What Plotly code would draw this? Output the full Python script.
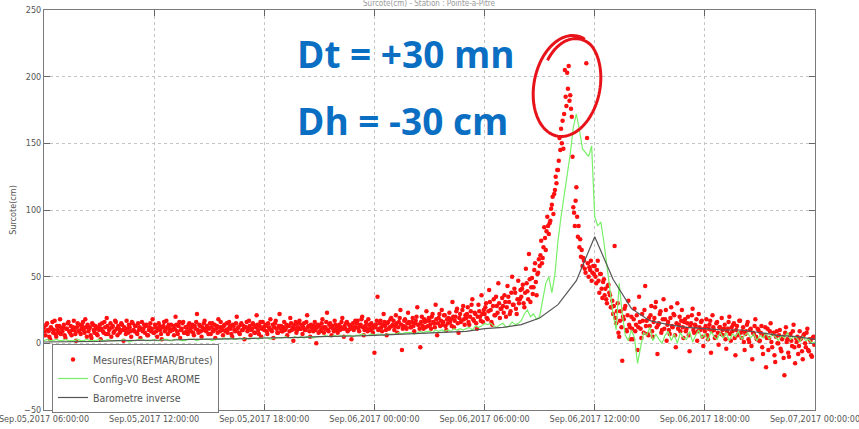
import math
import pandas as pd
import plotly.graph_objects as go

# ---------------- data ----------------
START = "2017-09-05 06:00:00"
END = "2017-09-07 00:00:00"

# Measurements (REFMAR raw), one value every 2.5 minutes, one row per hour
mesures = [
    12, 9, 6, 14, 15, 10, 9, 5, 3, 12, 11, 16, 8, 10, 17, 7, 5, 13, 10, 8, 13, 18, 7, 11,
    9, 12, 14, 6, 4, 11, 11, 15, 16, 9, 8, 13, 6, 10, 12, 17, 10, 7, 2, 12, 15, 9, 9, 14,
    7, 11, 13, 16, 10, 8, 18, 12, 5, 14, 9, 11, 12, 6, 4, 15, 14, 10, 8, 13, 11, 7, 6, 12,
    10, 14, 3, 11, 15, 9, 8, 16, 12, 7, 19, 13, 7, 10, 11, 15, 5, 12, 13, 8, 9, 17, 16, 11,
    6, 13, 11, 8, 9, 15, 14, 10, 2, 12, 10, 7, 17, 11, 8, 14, 12, 9, 5, 16, 15, 10, 9, 13,
    13, 8, 7, 15, 10, 12, 4, 11, 16, 9, 11, 14, 8, 13, 14, 6, 6, 10, 12, 15, 9, 11, 18, 8,
    8, 14, 12, 9, 5, 11, 15, 13, 10, 7, 3, 12, 13, 16, 9, 10, 17, 12, 7, 14, 11, 9, 14, 10,
    10, 13, 6, 11, 20, 14, 9, 7, 13, 16, 4, 10, 11, 15, 16, 8, 8, 12, 12, 9, 7, 14, 15, 11,
    9, 12, 14, 8, 6, 13, 11, 16, 22, 10, 8, 14, 13, 9, 5, 12, 10, 15, 17, 11, 9, 13, 12, 7,
    11, 15, 7, 12, 15, 9, 10, 14, 4, 11, 13, 8, 18, 12, 9, 16, 12, 10, 6, 13, 14, 9, 10, 15,
    8, 11, 16, 13, 11, 7, 5, 14, 13, 10, 9, 15, 20, 11, 12, 8, 7, 14, 15, 10, 10, 13, 3, 12,
    12, 16, 9, 11, 17, 13, 6, 10, 11, 15, 14, 8, 8, 12, 21, 14, 10, 7, 13, 16, 5, 11, 16, 12,
    10, 13, 14, 9, 7, 15, 12, 11, 18, 10, 9, 14, 4, 12, 15, 17, 11, 8, 8, 13, 22, 11, 13, 9,
    9, 12, 16, 10, 11, 14, 6, 13, 13, 9, 19, 15, 10, 12, 2, 11, 14, 16, 8, 10, 12, 15, 17, 11,
    11, 14, 7, 12, 15, 10, 10, 16, 21, 12, 13, 9, 5, 14, 12, 11, 9, 13, 16, 10, 0, 12, 14, 8,
    13, 9, 10, 15, 18, 12, 8, 11, 12, 16, 23, 10, 9, 14, 15, 12, 6, 13, 11, 9, 17, 14, 10, 12,
    8, 12, 14, 10, 12, 16, 19, 11, 5, 13, 11, 15, 16, 9, 10, 14, 13, 11, 3, 12, 15, 10, 12, 17,
    12, 15, 17, 11, 9, 13, 14, 18, 20, 12, 6, 10, 13, 16, 11, 9, 18, 14, 10, 12, 15, 11, 8, 13,
    -7, 12, 14, 17, 35, 10, 11, 15, 17, 12, 9, 14, 22, 16, 13, 10, 6, 15, 16, 11, 12, 18, 19, 13,
    14, 17, 10, 13, 21, 15, 8, 12, 16, 19, 25, 14, -5, 11, 13, 17, 18, 12, 11, 15, 23, 16, 15, 12,
    12, 16, 19, 13, 9, 15, 17, 20, 27, 14, 14, 11, -3, 16, 20, 13, 11, 18, 16, 12, 24, 17, 13, 19,
    17, 14, 11, 20, 22, 16, 15, 12, 29, 18, 6, 15, 19, 22, 13, 17, 25, 14, 16, 21, 21, 13, 10, 18,
    15, 19, 23, 16, 18, 13, 31, 20, 12, 17, 20, 24, 26, 15, 8, 19, 22, 16, 17, 25, 28, 18, 14, 21,
    19, 22, 27, 16, 14, 20, 24, 29, 33, 18, 17, 23, 22, 15, 11, 20, 29, 24, 20, 17, 36, 22, 16, 25,
    22, 27, 30, 19, 18, 24, 40, 31, 25, 16, 14, 28, 33, 21, 21, 35, 28, 23, 45, 30, 19, 26, 26, 34,
    28, 23, 36, 31, 20, 27, 43, 35, 31, 22, 24, 38, 50, 29, 29, 41, 38, 26, 22, 33, 47, 30, 33, 40,
    35, 41, 44, 30, 27, 38, 56, 45, 39, 33, 67, 48, 31, 42, 49, 37, 42, 55, 60, 46, 36, 52, 53, 63,
    58, 66, 77, 60, 64, 72, 87, 79, 70, 84, 95, 88, 82, 90, 92, 101, 104, 110, 97, 112, 115, 125, 120, 130,
    130, 137, 154, 145, 161, 150, 167, 146, 172, 205, 185, 178, 203, 191, 208, 182, 186, 176, 170, 140, 102, 98, 88, 107,
    117, 95, 80, 88, 72, 78, 65, 70, 58, 64, 62, 56, 53, 210, 154, 60, 50, 57, 55, 62, 47, 53, 58, 52,
    58, 50, 45, 55, 62, 47, 38, 52, 52, 41, 34, 46, 48, 36, 41, 33, 30, 43, 44, 38, 36, 27, 27, 32,
    22, 28, 73, 19, 15, 24, 30, 8, 5, 17, 24, 12, -13, 20, 18, 26, 28, 10, 9, 21, 32, 14, 12, 3,
    20, 11, 3, 18, 26, 9, 14, 21, -5, 12, 35, 16, 11, 4, 22, 17, 8, 25, 43, 13, 17, 7, 6, 19,
    13, 21, 28, 9, 5, 16, 19, 27, 31, 12, -8, 14, 15, 22, 24, 8, 10, 18, 33, 11, 18, 25, 2, 14,
    16, 10, 7, 19, 27, 13, 12, 22, 21, 6, -3, 15, 30, 11, 14, 20, 9, 17, 25, 12, 4, 16, 18, 9,
    11, 15, 20, 6, -6, 13, 15, 21, 26, 10, 8, 14, 13, 18, 2, 9, 22, 12, 10, 16, 17, 5, -2, 11,
    9, 13, 18, 6, 3, 11, 14, 17, -7, 9, 21, 12, 10, 4, 5, 15, 16, 8, -1, 12, 12, 7, 19, 10,
    6, 11, 14, 3, -4, 9, 11, 16, 20, 7, 2, 12, 9, 14, 15, 4, -9, 10, 13, 6, 7, 17, 17, 8,
    4, 9, 12, 1, -5, 7, 9, 14, 16, 3, 1, 10, 11, -2, -12, 8, 7, 13, 18, 5, 3, 11, 10, 2,
    2, 8, 13, -3, -8, 6, 6, 12, -18, 4, 11, -5, 4, 9, 15, 1, -3, 7, 8, -9, -14, 5, 9, 0,
    0, 6, 10, -4, -6, 3, 5, -11, -24, 8, 12, 1, 3, -7, -10, 6, 7, 2, -2, 9, 14, -3, -15, 4,
    1, 5, -8, -2, 9, 3, 4, -6, -12, 6, 7, 0, -3, 8, 11, -5, -6, 3, 2, -9, -10, 4, 5, -1,
]

# Model Config-V0 Best AROME, one value every 10 minutes, one row per hour
config_v0 = [
    2, 3, 2, 2, 3, 2,
    2, 3, 2, 2, 2, 3,
    2, 2, 3, 2, 2, 2,
    3, 2, 2, 3, 2, 2,
    2, 2, 3, 2, 1, 2,
    2, 3, 3, 2, 2, 2,
    3, 2, 2, 3, 3, 2,
    2, 3, 3, 2, 2, 3,
    3, 3, 2, 3, 3, 3,
    3, 2, 3, 3, 3, 4,
    3, 4, 3, 3, 4, 3,
    4, 3, 4, 4, 3, 4,
    4, 4, 3, 4, 4, 4,
    4, 5, 4, 4, 5, 4,
    5, 4, 5, 5, 4, 5,
    5, 5, 6, 5, 5, 6,
    5, 6, 5, 6, 6, 5,
    6, 6, 7, 6, 6, 7,
    6, 7, 7, 6, 7, 7,
    7, 7, 8, 7, 8, 8,
    8, 7, 8, 9, 8, 9,
    9, 8, 10, 9, 10, 9,
    10, 9, 11, 10, 11, 10,
    11, 12, 10, 13, 12, 13,
    15, 14, 15, 13, 12, 14,
    15, 12, 13, 16, 14, 15,
    17, 22, 25, 20, 22, 18,
    20, 32, 45, 50, 38, 52,
    77, 95, 110, 125, 142, 162,
    172, 160, 146, 143, 140, 148,
    95, 88, 91, 76, 58, 38,
    22, 10, 45, 22, 6, 2,
    10, 4, -15, -3, 8, 6,
    12, 2, 7, 3, 0, 6,
    9, 2, 7, 0, 8, 4,
    3, 9, 1, 6, 10, 4,
    7, 2, 9, 5, 3, 8,
    4, 8, 2, 7, 5, 9,
    3, 6, 8, 4, 7, 2,
    6, 4, 8, 3, 7, 5,
    2, 6, 4, 8, 3, 5,
    4, 1, 5, 2, 3, 0,
    1,
]

# Inverse barometer, hourly
barometre = [
    1, 1, 1, 1.5, 2, 2, 2, 2.5, 3, 3, 3, 3.5,
    4, 4, 4.5, 5, 5, 5.5, 6, 6.5, 7, 7.5, 8, 9,
    11, 12, 14, 19, 29, 47, 80, 48, 26, 17, 14, 12,
    11, 10, 10, 8, 6, 5, 3,
]

series_names = ["Mesures(REFMAR/Brutes)", "Config-V0 Best AROME", "Barometre inverse"]
y_ticks = [-50, 0, 50, 100, 150, 200, 250]
annot_texts = ["Dt = +30 mn", "Dh = -30 cm"]
title_text = "Surcote(cm) - Station : Pointe-a-Pitre"

# ---------------- figure ----------------
t_mes = pd.date_range(START, periods=len(mesures), freq="150s")
t_cfg = pd.date_range(START, periods=len(config_v0), freq="10min")
t_bar = pd.date_range(START, periods=len(barometre), freq="60min")

W, H = 859, 429
ML, MR, MT, MB = 44, 44, 10, 19
PW, PH = W - ML - MR, H - MT - MB


def px2paper(px, py):
    return (px - ML) / PW, (H - MB - py) / PH


NARROW = "Liberation Sans Narrow, DejaVu Sans Condensed, Arial Narrow, sans-serif"

fig = go.Figure()
fig.add_trace(go.Scatter(
    x=t_mes, y=mesures, mode="markers", name=series_names[0],
    marker=dict(color="#ff1010", size=4.5, line=dict(width=0)),
))
fig.add_trace(go.Scatter(
    x=t_cfg, y=config_v0, mode="lines", name=series_names[1],
    line=dict(color="#78f068", width=1.2),
))
fig.add_trace(go.Scatter(
    x=t_bar, y=barometre, mode="lines", name=series_names[2],
    line=dict(color="#555555", width=1.2),
))

axis_font = dict(family=NARROW, size=9, color="#555555")

fig.update_xaxes(
    range=[START, END], type="date",
    tick0=START, dtick=6 * 3600 * 1000,
    tickformat="%b.%d,%Y %H:%M:%S",
    ticks="inside", ticklen=6, tickcolor="#666666",
    showline=True, linecolor="#7a7a7a", linewidth=1, mirror="ticks",
    showgrid=True, gridcolor="#c4c4c4", griddash="dot", gridwidth=1,
    zeroline=False, tickfont=axis_font, automargin=False,
    ticklabeloverflow="allow",
)
fig.update_yaxes(
    range=[-50, 250], tickvals=y_ticks,
    ticks="inside", ticklen=6, tickcolor="#666666",
    showline=True, linecolor="#7a7a7a", linewidth=1, mirror="ticks",
    showgrid=True, gridcolor="#c4c4c4", griddash="dot", gridwidth=1,
    zeroline=False, tickfont=axis_font, automargin=False,
    ticklabeloverflow="allow",
    title=dict(text="Surcote(cm)", font=axis_font, standoff=5),
)

lx, ly = px2paper(52, 344)
fig.update_layout(
    width=W, height=H,
    margin=dict(l=ML, r=MR, t=MT, b=MB, pad=0, autoexpand=False),
    paper_bgcolor="white", plot_bgcolor="white",
    showlegend=True,
    legend=dict(
        x=lx, y=ly, xanchor="left", yanchor="top",
        bgcolor="white", bordercolor="#7a7a7a", borderwidth=1,
        font=dict(family=NARROW, size=10.5, color="#555555"),
        tracegroupgap=0,
    ),
)

# small title at the very top
fig.add_annotation(
    text=title_text, xref="paper", yref="paper", x=0.5, y=1.0,
    yshift=0, yanchor="bottom", showarrow=False,
    font=dict(family=NARROW, size=8, color="#999999"),
)

# blue annotations
for txt, py in zip(annot_texts, [53, 121]):
    ax, ay = px2paper(295, py)
    fig.add_annotation(
        text=f"<b>{txt}</b>", xref="paper", yref="paper", x=ax, y=ay,
        xanchor="left", yanchor="middle", showarrow=False,
        font=dict(family="Open Sans, Noto Sans, sans-serif", size=37, color="#0a6fc2"),
    )

# hand-drawn red ellipse around the peak
cx, cy, rx, ry, tilt = 567, 86, 33, 51, math.radians(11)
pts = []
n = 120
t0, t1 = math.radians(-150), math.radians(-150 + 360 + 75)
for i in range(n + 1):
    t = t0 + (t1 - t0) * i / n
    frac = (t - t0) / math.radians(90)
    s = 0.84 + 0.16 * min(1.0, max(0.0, frac))
    ex, ey = rx * s * math.cos(t), ry * s * math.sin(t)
    px = cx + ex * math.cos(tilt) - ey * math.sin(tilt)
    py = cy + ex * math.sin(tilt) + ey * math.cos(tilt)
    pts.append(px2paper(px, py))
path = "M " + " L ".join(f"{x:.5f},{y:.5f}" for x, y in pts)
fig.add_shape(type="path", path=path, xref="paper", yref="paper",
              line=dict(color="#e8131a", width=3))

# remove the default page margin so the figure fills the 859x429 window
fig.write_html("out.html", config={"displayModeBar": False},
               post_script="document.body.style.margin='0';")
